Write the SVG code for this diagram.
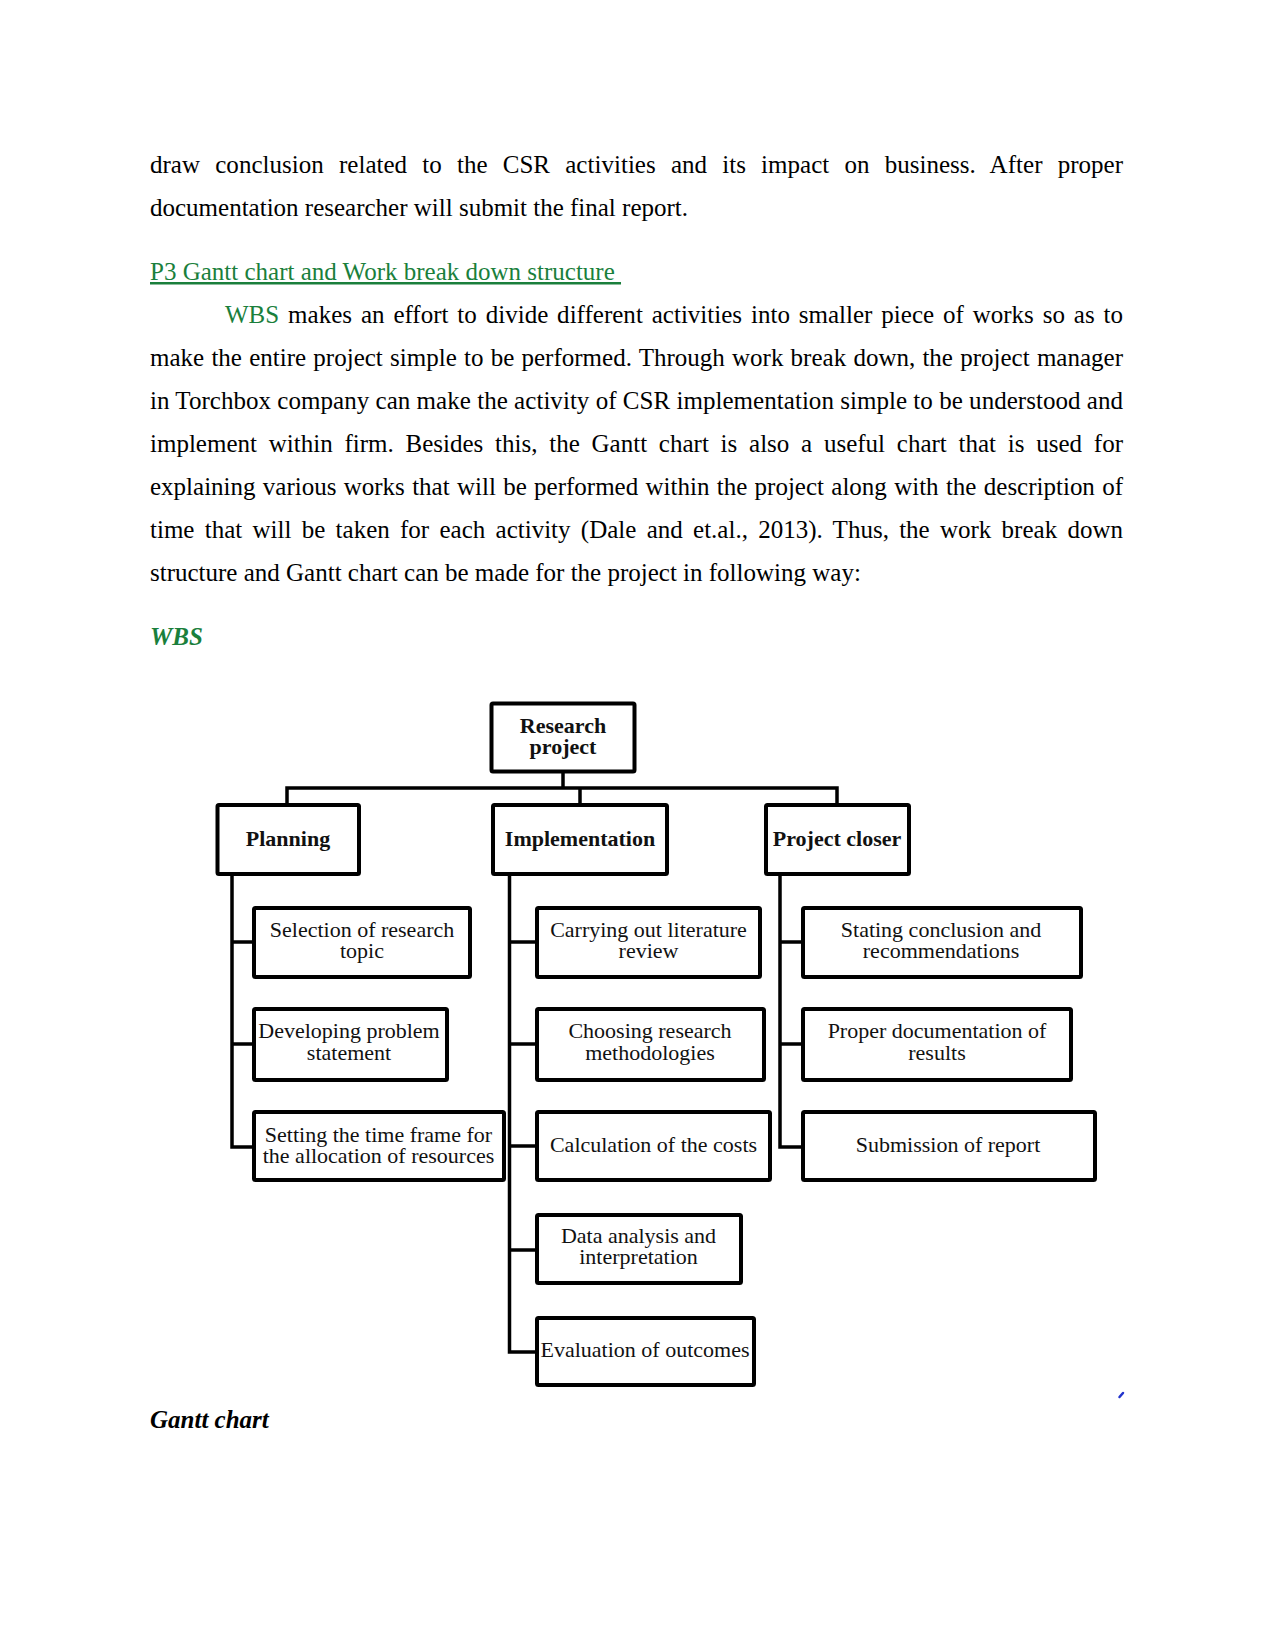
<svg xmlns="http://www.w3.org/2000/svg" width="1275" height="1651" viewBox="0 0 1275 1651">
<style>
.body{font-family:"Liberation Serif","Times New Roman",serif;font-size:25px;fill:#000}
.green{fill:#1a7f3c}
.box{fill:#fff;stroke:#000;stroke-width:4}
.conn{fill:none;stroke:#000;stroke-width:3.5;stroke-linejoin:miter}
.lbl{font-family:"Liberation Serif","Times New Roman",serif;font-size:22px;fill:#111;text-anchor:middle}
.hd{font-family:"Liberation Serif","Times New Roman",serif;font-size:22px;font-weight:bold;fill:#111;text-anchor:middle}
</style>
<rect width="1275" height="1651" fill="#fff"/>

<g id="text">
<text class="body" x="150" y="173" word-spacing="8.9" textLength="973" lengthAdjust="spacing">draw conclusion related to the CSR activities and its impact on business. After proper</text>
<text class="body" x="150" y="216">documentation researcher will submit the final report.</text>
<text class="body green" x="150" y="280" text-decoration="underline" xml:space="preserve">P3 Gantt chart and Work break down structure </text>
<text class="body" x="225" y="323" word-spacing="2.6" textLength="898" lengthAdjust="spacing"><tspan class="green">WBS</tspan> makes an effort to divide different activities into smaller piece of works so as to</text>
<text class="body" x="150" y="366" word-spacing="0.96" textLength="973" lengthAdjust="spacing">make the entire project simple to be performed. Through work break down, the project manager</text>
<text class="body" x="150" y="409" textLength="973" lengthAdjust="spacing">in Torchbox company can make the activity of CSR implementation simple to be understood and</text>
<text class="body" x="150" y="452" word-spacing="5.5" textLength="973" lengthAdjust="spacing">implement within firm. Besides this, the Gantt chart is also a useful chart that is used for</text>
<text class="body" x="150" y="495" word-spacing="1.06" textLength="973" lengthAdjust="spacing">explaining various works that will be performed within the project along with the description of</text>
<text class="body" x="150" y="538" word-spacing="4.0" textLength="973" lengthAdjust="spacing">time that will be taken for each activity (Dale and et.al., 2013). Thus, the work break down</text>
<text class="body" x="150" y="581">structure and Gantt chart can be made for the project in following way:</text>
<text class="body green" x="150" y="645" font-weight="bold" font-style="italic">WBS</text>
<text class="body" x="150" y="1428" font-weight="bold" font-style="italic">Gantt chart</text>
</g>

<g id="connectors">
<path class="conn" d="M563 773 V788"/>
<path class="conn" d="M287 803 V788 H837 V803"/>
<path class="conn" d="M580 788 V803"/>
<path class="conn" d="M232 876 V1147 H254"/>
<path class="conn" d="M232 942 H254 M232 1044 H254"/>
<path class="conn" d="M509.5 876 V1352 H537"/>
<path class="conn" d="M509.5 942 H537 M509.5 1044 H537 M509.5 1146 H537 M509.5 1250 H537"/>
<path class="conn" d="M780 876 V1147 H803"/>
<path class="conn" d="M780 942 H803 M780 1044 H803"/>
</g>

<g id="n-research"><rect class="box" x="491.5" y="703.5" width="143" height="68" rx="1.5"/><text class="hd" x="563" y="733">Research</text><text class="hd" x="563" y="754">project</text></g>
<g id="n-planning"><rect class="box" x="217.5" y="805" width="141.5" height="69" rx="1.5"/><text class="hd" x="288" y="846">Planning</text></g>
<g id="n-implementation"><rect class="box" x="493" y="805" width="174" height="69" rx="1.5"/><text class="hd" x="580" y="846">Implementation</text></g>
<g id="n-closer"><rect class="box" x="766" y="805" width="143" height="69" rx="1.5"/><text class="hd" x="837" y="846">Project closer</text></g>

<g id="n-selection"><rect class="box" x="254" y="908" width="216" height="69" rx="1.5"/><text class="lbl" x="362" y="937">Selection of research</text><text class="lbl" x="362" y="958">topic</text></g>
<g id="n-developing"><rect class="box" x="254" y="1009" width="193" height="71" rx="1.5"/><text class="lbl" x="349" y="1038">Developing problem</text><text class="lbl" x="349" y="1060">statement</text></g>
<g id="n-setting"><rect class="box" x="254" y="1112" width="250" height="68" rx="1.5"/><text class="lbl" x="378.5" y="1142">Setting the time frame for</text><text class="lbl" x="378.5" y="1163">the allocation of resources</text></g>

<g id="n-carrying"><rect class="box" x="537" y="908" width="223" height="69" rx="1.5"/><text class="lbl" x="648.5" y="937">Carrying out literature</text><text class="lbl" x="648.5" y="958">review</text></g>
<g id="n-choosing"><rect class="box" x="537" y="1009" width="227" height="71" rx="1.5"/><text class="lbl" x="650" y="1038">Choosing research</text><text class="lbl" x="650" y="1060">methodologies</text></g>
<g id="n-calc"><rect class="box" x="537" y="1112" width="233" height="68" rx="1.5"/><text class="lbl" x="653.5" y="1152">Calculation of the costs</text></g>
<g id="n-data"><rect class="box" x="537" y="1215" width="204" height="68" rx="1.5"/><text class="lbl" x="638.5" y="1243">Data analysis and</text><text class="lbl" x="638.5" y="1264">interpretation</text></g>
<g id="n-evaluation"><rect class="box" x="537" y="1318" width="217" height="67" rx="1.5"/><text class="lbl" x="645" y="1357">Evaluation of outcomes</text></g>

<g id="n-stating"><rect class="box" x="803" y="908" width="278" height="69" rx="1.5"/><text class="lbl" x="941" y="937">Stating conclusion and</text><text class="lbl" x="941" y="958">recommendations</text></g>
<g id="n-proper"><rect class="box" x="803" y="1009" width="268" height="71" rx="1.5"/><text class="lbl" x="937" y="1038">Proper documentation of</text><text class="lbl" x="937" y="1060">results</text></g>
<g id="n-submission"><rect class="box" x="803" y="1112" width="292" height="68" rx="1.5"/><text class="lbl" x="948" y="1152">Submission of report</text></g>

<path d="M1119.5 1397 L1123 1393" stroke="#2233cc" stroke-width="2.5" stroke-linecap="round" fill="none"/>
</svg>
